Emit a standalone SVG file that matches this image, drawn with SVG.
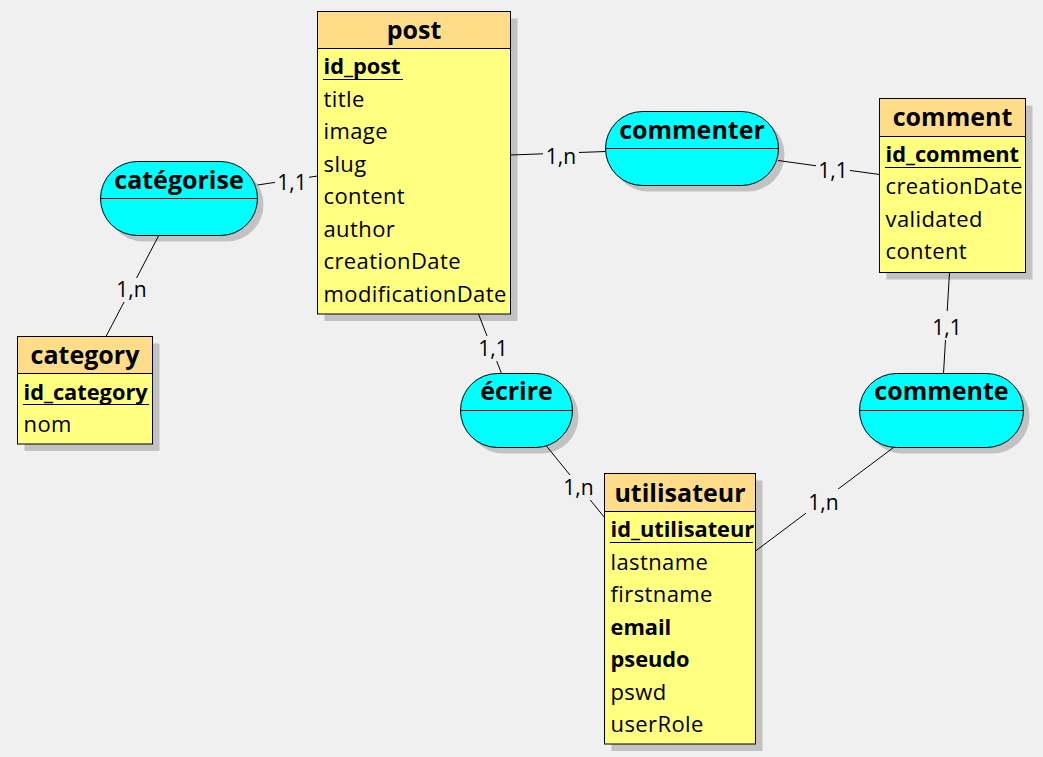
<svg xmlns="http://www.w3.org/2000/svg" width="1043" height="757" viewBox="0 0 1043 757">
<style>
  .bg{fill:#f0f0f0}
  .shadow{fill:#c2c2c2;stroke:none}
  .body{fill:#ffff80;stroke:#000;stroke-width:1}
  .head{fill:#ffdd88;stroke:#000;stroke-width:1}
  .rel{fill:#00ffff;stroke:#000;stroke-width:1}
  .ln{stroke:#000;stroke-width:1;fill:none}
  .title{font-family:'Open Sans','Noto Sans','DejaVu Sans',sans-serif;font-weight:bold;font-size:25px;fill:#000;text-anchor:middle}
  .attr{font-family:'Open Sans','Noto Sans','DejaVu Sans',sans-serif;font-size:22px;letter-spacing:0.4px;fill:#000}
  .key{font-family:'Open Sans','Noto Sans','DejaVu Sans',sans-serif;font-size:21.8px;font-weight:bold;fill:#000}
  .card{font-family:'Open Sans','Noto Sans','DejaVu Sans',sans-serif;font-size:21px;fill:#000;text-anchor:middle}
  .lblbg{fill:#f0f0f0;stroke:none}
</style>
<rect class="bg" x="0" y="0" width="1043" height="757"/>

<g id="post">
  <rect class="shadow" x="324.5" y="18.5" width="193" height="302.5"/>
  <rect class="body" x="317.5" y="11.5" width="193" height="302.5"/>
  <rect class="head" x="317.5" y="11.5" width="193" height="37"/>
  <text class="title" x="414" y="38.5">post</text>
  <text class="key" x="323.5" y="74">id_post</text>
  <line class="ln" x1="323" y1="79.5" x2="403" y2="79.5"/>
  <text class="attr" x="323.5" y="106.5">title</text>
  <text class="attr" x="323.5" y="139">image</text>
  <text class="attr" x="323.5" y="171.5">slug</text>
  <text class="attr" x="323.5" y="204">content</text>
  <text class="attr" x="323.5" y="236.5">author</text>
  <text class="attr" x="323.5" y="269">creationDate</text>
  <text class="attr" x="323.5" y="301.5">modificationDate</text>
</g>

<g id="comment">
  <rect class="shadow" x="886.5" y="105.5" width="146" height="174"/>
  <rect class="body" x="879.5" y="98.5" width="146" height="174"/>
  <rect class="head" x="879.5" y="98.5" width="146" height="38"/>
  <text class="title" x="952.5" y="126">comment</text>
  <text class="key" x="885.5" y="161.5">id_comment</text>
  <line class="ln" x1="885" y1="167.5" x2="1021" y2="167.5"/>
  <text class="attr" x="885.5" y="194">creationDate</text>
  <text class="attr" x="885.5" y="226.5">validated</text>
  <text class="attr" x="885.5" y="259">content</text>
</g>

<g id="category">
  <rect class="shadow" x="24.5" y="343.5" width="135" height="107.5"/>
  <rect class="body" x="17.5" y="336.5" width="135" height="107.5"/>
  <rect class="head" x="17.5" y="336.5" width="135" height="37"/>
  <text class="title" x="85" y="363.5">category</text>
  <text class="key" x="23.5" y="400">id_category</text>
  <line class="ln" x1="23" y1="404.5" x2="149" y2="404.5"/>
  <text class="attr" x="23.5" y="432">nom</text>
</g>

<g id="utilisateur">
  <rect class="shadow" x="611.5" y="480.5" width="151" height="270.5"/>
  <rect class="body" x="604.5" y="473.5" width="151" height="270.5"/>
  <rect class="head" x="604.5" y="473.5" width="151" height="38"/>
  <text class="title" x="680" y="501.5">utilisateur</text>
  <text class="key" x="610.5" y="537">id_utilisateur</text>
  <line class="ln" x1="610" y1="542.5" x2="753" y2="542.5"/>
  <text class="attr" x="610.5" y="569.5">lastname</text>
  <text class="attr" x="610.5" y="602">firstname</text>
  <text class="key" x="610.5" y="634.5">email</text>
  <text class="key" x="610.5" y="667">pseudo</text>
  <text class="attr" x="610.5" y="699.5">pswd</text>
  <text class="attr" x="610.5" y="732">userRole</text>
</g>

<g id="categorise">
  <rect class="shadow" x="106.5" y="167.5" width="157" height="74" rx="37" ry="37"/>
  <rect class="rel" x="100.5" y="161.5" width="157" height="74" rx="37" ry="37"/>
  <line class="ln" x1="100.5" y1="198.5" x2="257.5" y2="198.5"/>
  <text class="title" x="179" y="188.5">catégorise</text>
</g>

<g id="commenter">
  <rect class="shadow" x="611.5" y="117.5" width="173" height="74" rx="37" ry="37"/>
  <rect class="rel" x="605.5" y="111.5" width="173" height="74" rx="37" ry="37"/>
  <line class="ln" x1="605.5" y1="148.5" x2="778.5" y2="148.5"/>
  <text class="title" x="692" y="138.5">commenter</text>
</g>

<g id="ecrire">
  <rect class="shadow" x="466.5" y="379.5" width="112" height="74" rx="37" ry="37"/>
  <rect class="rel" x="460.5" y="373.5" width="112" height="74" rx="37" ry="37"/>
  <line class="ln" x1="460.5" y1="410.5" x2="572.5" y2="410.5"/>
  <text class="title" x="516.5" y="400">écrire</text>
</g>

<g id="commente">
  <rect class="shadow" x="865.5" y="379.5" width="164" height="74" rx="37" ry="37"/>
  <rect class="rel" x="859.5" y="373.5" width="164" height="74" rx="37" ry="37"/>
  <line class="ln" x1="859.5" y1="410.5" x2="1023.5" y2="410.5"/>
  <text class="title" x="941.5" y="400">commente</text>
</g>

<g id="connectors">
  <line class="ln" x1="257.5" y1="185" x2="317.5" y2="176"/>
  <rect class="lblbg" x="275" y="172" width="34" height="23"/>
  <text class="card" x="292" y="190">1,1</text>

  <line class="ln" x1="158.5" y1="236" x2="106" y2="336.5"/>
  <rect class="lblbg" x="114" y="278" width="35" height="24"/>
  <text class="card" x="131.5" y="297">1,n</text>

  <line class="ln" x1="510.5" y1="155" x2="605.5" y2="151.5"/>
  <rect class="lblbg" x="543" y="144" width="36" height="24"/>
  <text class="card" x="561" y="163.5">1,n</text>

  <line class="ln" x1="778" y1="160.5" x2="879.5" y2="174.5"/>
  <rect class="lblbg" x="816" y="158" width="34" height="24"/>
  <text class="card" x="833" y="177.5">1,1</text>

  <line class="ln" x1="478.5" y1="314" x2="501.5" y2="373.5"/>
  <rect class="lblbg" x="476" y="336" width="34" height="25"/>
  <text class="card" x="493" y="356">1,1</text>

  <line class="ln" x1="546" y1="445.5" x2="604.5" y2="517.5"/>
  <rect class="lblbg" x="561" y="475" width="34" height="25"/>
  <text class="card" x="578.5" y="495">1,n</text>

  <line class="ln" x1="949.5" y1="272.5" x2="943.5" y2="373.5"/>
  <rect class="lblbg" x="930" y="311" width="34" height="29"/>
  <text class="card" x="947" y="335">1,1</text>

  <line class="ln" x1="893.5" y1="447.5" x2="755.5" y2="551"/>
  <rect class="lblbg" x="806" y="489" width="35" height="25"/>
  <text class="card" x="823.5" y="510">1,n</text>
</g>
</svg>
